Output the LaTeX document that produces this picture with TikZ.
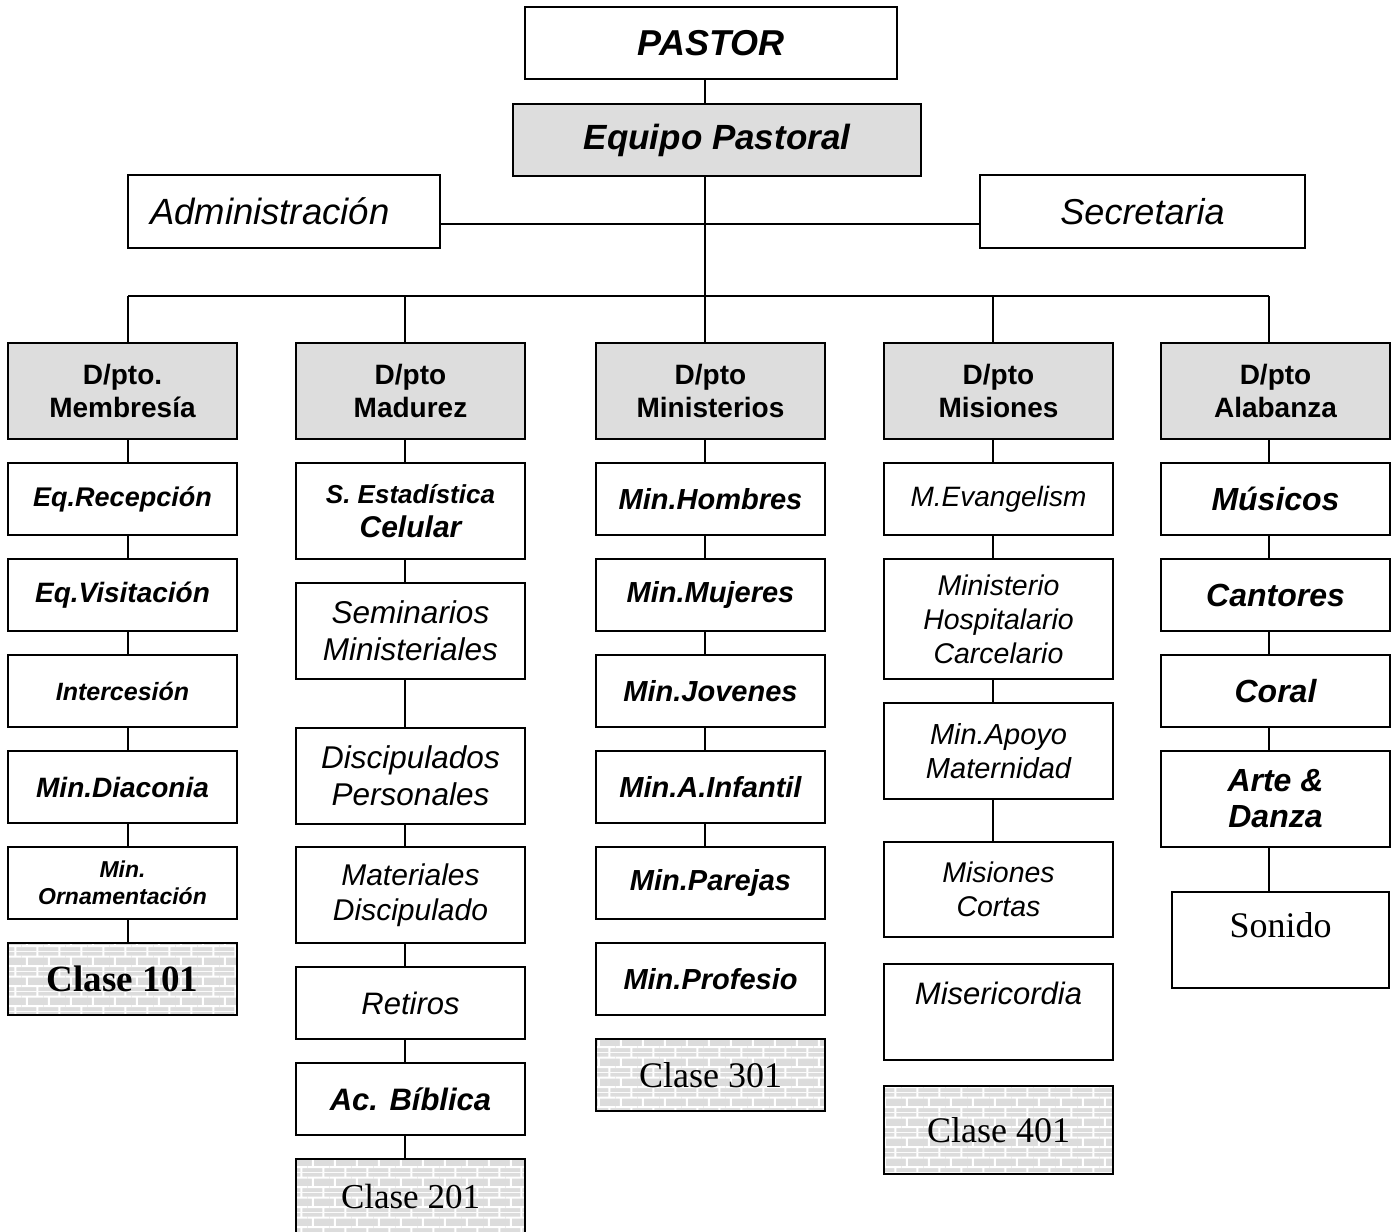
\documentclass[tikz,border=0pt]{standalone}
\usepackage{fontspec}
\setmainfont{Liberation Sans}
\newfontfamily\serifface{Liberation Serif}
\usetikzlibrary{patterns.meta}

\definecolor{deptgray}{HTML}{DDDDDD}
\definecolor{brickgray}{HTML}{DCDCDC}

% brick fill for the Clase boxes
\tikzdeclarepattern{
  name=brickwall,
  type=colored,
  bounding box={(0pt,0pt) and (22pt,20pt)},
  tile size={(22pt,20pt)},
  code={
    \fill[brickgray] (0pt,0pt) rectangle (22pt,20pt);
    \draw[white, line width=2pt]
      (0pt,5pt) -- (22pt,5pt)
      (0pt,15pt) -- (22pt,15pt)
      (5pt,5pt) -- (5pt,15pt)
      (16pt,15pt) -- (16pt,20pt)
      (16pt,0pt) -- (16pt,5pt);
  }
}

\begin{document}
\begin{tikzpicture}[x=1pt, y=-1pt,
    box/.style={draw, line width=2.2pt, inner sep=3pt, align=center,
      minimum width=229, minimum height=72},
    dept/.style={box, fill=deptgray, minimum height=96,
      font=\fontsize{28}{33}\selectfont\bfseries},
    cls/.style={box, pattern=brickwall},
    bi/.style 2 args={font=\fontsize{#1}{#2}\selectfont\bfseries\itshape},
    it/.style 2 args={font=\fontsize{#1}{#2}\selectfont\itshape},
    tm/.style 2 args={font=\serifface\fontsize{#1}{#2}\selectfont},
    tmb/.style 2 args={font=\serifface\fontsize{#1}{#2}\selectfont\bfseries},
    link/.style={line width=2pt}]

  \useasboundingbox (0,0) rectangle (1391,1231);

  % Top
  \node[box, bi={36}{40}, minimum width=372] (pastor) at (711,43) {PASTOR};
  \node[box, fill=deptgray, bi={35}{40}, minimum width=408] (equipo) at (717,140) {Equipo Pastoral};
  \node[box, it={36.5}{40}, minimum width=312, minimum height=73,
    text width=268, inner xsep=22, align=left] (admin) at (284,211.5) {Administración};
  \node[box, it={36}{40}, minimum width=325, minimum height=73] (secre) at (1142.5,211.5) {Secretaria};

  \coordinate (b1) at (128,296);
  \coordinate (b2) at (405,296);
  \coordinate (b3) at (705,296);
  \coordinate (b4) at (993,296);
  \coordinate (b5) at (1269,296);

  \draw[link] (pastor.south -| b3) -- (equipo.north -| b3);
  \draw[line width=1.3pt] (equipo.south -| b3) -- (b3);
  \draw[link] ([yshift=-12.5]admin.east) -- ([yshift=-12.5]secre.west);
  \draw[line width=1.8pt] (b1) -- (b5);

  % Departamentos
  \node[dept] (d1) at (122.5,391) {D/pto.\\Membresía};
  \node[dept] (d2) at (410.5,391) {D/pto\\Madurez};
  \node[dept] (d3) at (710.5,391) {D/pto\\Ministerios};
  \node[dept] (d4) at (998.5,391) {D/pto\\Misiones};
  \node[dept] (d5) at (1275.5,391) {D/pto\\Alabanza};

  \foreach \i in {1,...,5}
    \draw[link] (b\i) -- (d\i.north -| b\i);

  % Membresia
  \node[box, bi={27}{31}] (mem1) at (122.5,499) {Eq.Recepción};
  \node[box, bi={28}{32}] (mem2) at (122.5,595) {Eq.Visitación};
  \node[box, bi={25}{29}] (mem3) at (122.5,691) {Intercesión};
  \node[box, bi={28}{32}] (mem4) at (122.5,787) {Min.Diaconia};
  \node[box, bi={23}{27}] (mem5) at (122.5,883) {Min.\\Ornamentación};
  \node[cls, tmb={37}{40}] (mem6) at (122.5,979) {Clase 101};

  % Madurez
  \node[box, bi={30}{34}, minimum height=96] (mad1) at (410.5,511)
    {{\fontsize{26}{31}\selectfont S. Estadística}\\Celular};
  \node[box, it={31.5}{37}, minimum height=96] (mad2) at (410.5,631) {Seminarios\\Ministeriales};
  \node[box, it={31.5}{37}, minimum height=96] (mad3) at (410.5,776) {Discipulados\\Personales};
  \node[box, it={30}{35}, minimum height=96] (mad4) at (410.5,895) {Materiales\\Discipulado};
  \node[box, it={31}{35}] (mad5) at (410.5,1003) {Retiros};
  \node[box, bi={31}{35}] (mad6) at (410.5,1099) {Ac. Bíblica};
  \node[cls, tm={35}{40}, minimum height=76] (mad7) at (410.5,1197) {Clase 201};

  % Ministerios
  \node[box, bi={29}{33}] (min1) at (710.5,499) {Min.Hombres};
  \node[box, bi={29}{33}] (min2) at (710.5,595) {Min.Mujeres};
  \node[box, bi={29}{33}] (min3) at (710.5,691) {Min.Jovenes};
  \node[box, bi={29}{33}] (min4) at (710.5,787) {Min.A.Infantil};
  \node[box, bi={29}{33}] (min5) at (710.5,883) {Min.Parejas};
  \node[box, bi={29}{33}] (min6) at (710.5,979) {Min.Profesio};
  \node[cls, tm={36}{40}] (min7) at (710.5,1075) {Clase 301};

  % Misiones
  \node[box, it={28}{32}] (mis1) at (998.5,499) {M.Evangelism};
  \node[box, it={28.5}{34}, minimum height=120] (mis2) at (998.5,619) {Ministerio\\Hospitalario\\Carcelario};
  \node[box, it={29}{34}, minimum height=96] (mis3) at (998.5,751) {Min.Apoyo\\Maternidad};
  \node[box, it={28.5}{34}, minimum height=95] (mis4) at (998.5,889.5) {Misiones\\Cortas};
  \node[box, it={31}{35}, minimum height=96, text depth=37] (mis5) at (998.5,1012) {Misericordia};
  \node[cls, tm={36}{40}, minimum height=88] (mis6) at (998.5,1130) {Clase 401};

  % Alabanza
  \node[box, bi={32}{36}] (ala1) at (1275.5,499) {Músicos};
  \node[box, bi={32}{36}] (ala2) at (1275.5,595) {Cantores};
  \node[box, bi={32}{36}] (ala3) at (1275.5,691) {Coral};
  \node[box, bi={32}{36}, minimum height=96] (ala4) at (1275.5,799) {Arte \&\\Danza};
  \node[box, tm={36}{40}, minimum width=217, minimum height=96, text depth=31] (ala5) at (1280.5,940) {Sonido};

  \foreach \a/\b in {d1/mem1,mem1/mem2,mem2/mem3,mem3/mem4,mem4/mem5,mem5/mem6}
    \draw[link] (\a.south -| b1) -- (\b.north -| b1);
  \foreach \a/\b in {d2/mad1,mad1/mad2,mad2/mad3,mad3/mad4,mad4/mad5,mad5/mad6,mad6/mad7}
    \draw[link] (\a.south -| b2) -- (\b.north -| b2);
  \foreach \a/\b in {d3/min1,min1/min2,min2/min3,min3/min4,min4/min5}
    \draw[link] (\a.south -| b3) -- (\b.north -| b3);
  \foreach \a/\b in {d4/mis1,mis1/mis2,mis2/mis3,mis3/mis4}
    \draw[link] (\a.south -| b4) -- (\b.north -| b4);
  \foreach \a/\b in {d5/ala1,ala1/ala2,ala2/ala3,ala3/ala4,ala4/ala5}
    \draw[link] (\a.south -| b5) -- (\b.north -| b5);
\end{tikzpicture}
\end{document}
